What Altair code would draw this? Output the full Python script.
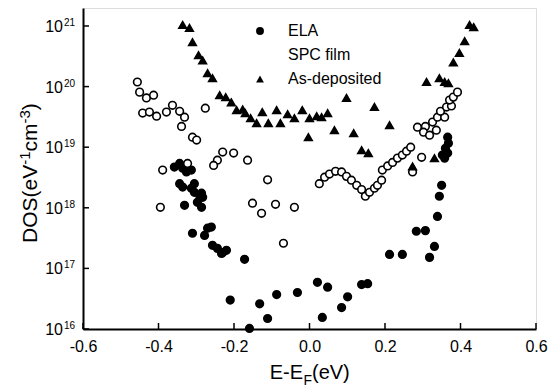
import altair as alt
import pandas as pd

# ---- data ----
series_names = ["ELA", "SPC film", "As-deposited"]

ela_x = [-0.358, -0.344, -0.336, -0.326, -0.313, -0.344, -0.336, -0.313, -0.305, -0.305,
         -0.291, -0.283, -0.297, -0.286, -0.331, -0.310, -0.278, -0.270, -0.260, -0.257,
         -0.244, -0.230, -0.220, -0.233, -0.172, -0.210, -0.159, -0.132, -0.111, -0.087,
         -0.032, 0.021, 0.048, 0.034, 0.085, 0.101, 0.138, 0.154, 0.212, 0.246,
         0.283, 0.307, 0.331, 0.318, 0.339, 0.344, 0.350, 0.366, 0.368, 0.360,
         0.366, 0.352, 0.358, -0.286]
ela_y = [4.7e18, 5.4e18, 4.5e18, 3.9e18, 4.2e18, 2.5e18, 2.2e18, 2.1e18, 2.5e18, 1.8e18,
         1.6e18, 1.49e18, 1.23e18, 1.02e18, 1.10e18, 3.8e17, 3.5e17, 4.6e17, 4.8e17, 2.4e17,
         2.14e17, 1.83e17, 1.99e17, 1.77e17, 1.41e17, 3.0e16, 1.02e16, 2.6e16, 1.49e16, 3.7e16,
         4.0e16, 5.9e16, 4.9e16, 1.55e16, 2.26e16, 3.4e16, 5.4e16, 5.6e16, 1.70e17, 1.70e17,
         4.1e17, 4.2e17, 2.3e17, 1.52e17, 7.2e17, 1.55e18, 2.35e18, 1.46e19, 1.16e19, 9.6e18,
         8.0e18, 7.4e18, 6.6e18, 1.74e18]

spc_x = [-0.456, -0.450, -0.432, -0.413, -0.442, -0.424, -0.405, -0.379, -0.363, -0.344,
         -0.331, -0.339, -0.310, -0.299, -0.389, -0.323, -0.395, -0.276, -0.230, -0.244,
         -0.254, -0.201, -0.164, -0.111, -0.151, -0.127, -0.090, -0.040, -0.069,
         0.026, 0.040, 0.053, 0.069, 0.085, 0.098, 0.111, 0.125, 0.138, 0.148,
         0.159, 0.172, 0.180, 0.191, 0.193, 0.207, 0.220, 0.233, 0.246, 0.257,
         0.268, 0.273, 0.297, 0.286, 0.307, 0.302, 0.318, 0.336, 0.326, 0.339,
         0.358, 0.347, 0.363, 0.376, 0.371, 0.381, 0.392]
spc_y = [1.19e20, 8.1e19, 6.5e19, 7.2e19, 3.65e19, 3.8e19, 3.25e19, 3.8e19, 4.9e19, 3.9e19,
         3.13e19, 2.2e19, 1.46e19, 1.31e19, 4.2e18, 5.4e18, 1.02e18, 4.4e19, 8.3e18, 6.1e18,
         5.0e18, 8.0e18, 6.1e18, 2.9e18, 1.19e18, 8.1e17, 1.14e18, 1.02e18, 2.6e17,
         2.5e18, 3.2e18, 3.6e18, 4.0e18, 3.9e18, 3.3e18, 2.85e18, 2.35e18, 2.0e18, 1.55e18,
         1.8e18, 2.1e18, 2.35e18, 2.85e18, 4.2e18, 4.9e18, 5.6e18, 6.6e18, 7.4e18, 8.6e18,
         1.0e19, 3.9e18, 6.8e18, 2.14e19, 2.2e19, 1.77e19, 1.58e19, 1.91e19, 2.6e19, 3.13e19,
         3.13e19, 3.9e19, 4.6e19, 4.8e19, 6.0e19, 6.7e19, 8.1e19]

asd_x = [-0.336, -0.318, -0.310, -0.294, -0.283, -0.270, -0.257, -0.238, -0.222, -0.207,
         -0.193, -0.177, -0.170, -0.156, -0.140, -0.125, -0.109, -0.087, -0.077, -0.058,
         -0.040, -0.019, 0.000, 0.019, 0.032, 0.048, -0.003, 0.066, 0.098, 0.117,
         0.138, 0.156, 0.172, 0.212, 0.273, 0.331, 0.310, 0.344, 0.358, 0.368,
         0.381, 0.397, 0.411, 0.424, 0.435]
asd_y = [1.04e21, 9.3e20, 5.4e20, 3.3e20, 2.7e20, 1.67e20, 1.38e20, 7.2e19, 6.7e19, 5.5e19,
         4.1e19, 4.2e19, 3.65e19, 3.0e19, 2.5e19, 3.8e19, 2.5e19, 4.1e19, 2.5e19, 3.5e19,
         3.0e19, 4.1e19, 3.0e19, 3.25e19, 3.13e19, 3.65e19, 1.46e19, 1.91e19, 6.5e19, 1.70e19,
         8.9e18, 8.0e18, 4.6e19, 2.3e19, 4.8e18, 6.6e18, 1.19e20, 1.38e20, 1.19e20, 1.14e20,
         2.5e20, 3.6e20, 5.6e20, 1.04e21, 9.6e20]

x_ticks = [-0.6, -0.4, -0.2, 0.0, 0.2, 0.4, 0.6]
y_ticks = [1e16, 1e17, 1e18, 1e19, 1e20, 1e21]
y_tick_base = ["10"] * 6
y_tick_exp = ["16", "17", "18", "19", "20", "21"]

# ---- tables ----
df = pd.concat([
    pd.DataFrame({"E": ela_x, "DOS": ela_y, "series": "ELA"}),
    pd.DataFrame({"E": spc_x, "DOS": spc_y, "series": "SPC film"}),
    pd.DataFrame({"E": asd_x, "DOS": asd_y, "series": "As-deposited"}),
], ignore_index=True)
xt = pd.DataFrame({"t": x_ticks})
yt = pd.DataFrame({"v": y_ticks, "base": y_tick_base, "exp": y_tick_exp})

W, H = 453, 321
FONT = "Liberation Sans"
xscale = alt.Scale(domain=[-0.6, 0.6], nice=False, zero=False)
yscale = alt.Scale(type="log", domain=[1e16, 1.98e21], nice=False)

legend = alt.Legend(title=None, orient="none", legendX=169, legendY=15,
                    labelFontSize=16, labelFont=FONT, labelColor="black",
                    symbolSize=62, symbolStrokeColor="black", symbolStrokeWidth=1.6,
                    labelOffset=20, rowPadding=8, padding=0)

points = alt.Chart(df).mark_point(filled=True, stroke="black", strokeWidth=1.6,
                                  opacity=1, size=58).encode(
    x=alt.X("E:Q", scale=xscale,
            axis=alt.Axis(values=x_ticks, ticks=False, grid=False, title=None,
                          domainColor="black", domainWidth=2,
                          labelFontSize=16, labelFont=FONT, labelColor="black",
                          labelPadding=9, labelFlush=False,
                          labelExpr="datum.value < 0 ? '-' + format(-datum.value, '.1f') : format(datum.value, '.1f')")),
    y=alt.Y("DOS:Q", scale=yscale,
            axis=alt.Axis(values=y_ticks, labels=False, ticks=False, grid=False,
                          title=None, domainColor="black", domainWidth=2)),
    fill=alt.Fill("series:N", scale=alt.Scale(domain=series_names,
                                              range=["black", "white", "black"]),
                  legend=legend),
    shape=alt.Shape("series:N", scale=alt.Scale(domain=series_names,
                                                range=["circle", "circle", "triangle-up"]),
                    legend=legend),
)

xtick_marks = alt.Chart(xt).mark_rule(color="black", strokeWidth=1.5).encode(
    x=alt.X("t:Q", scale=xscale), y=alt.value(H), y2=alt.value(H - 6))
ytick_marks = alt.Chart(yt).mark_rule(color="black", strokeWidth=1.5).encode(
    y=alt.Y("v:Q", scale=yscale), x=alt.value(0), x2=alt.value(6))

ylab_base = alt.Chart(yt).mark_text(align="right", baseline="middle", fontSize=16,
                                    font=FONT, color="black", dy=1).encode(
    y=alt.Y("v:Q", scale=yscale), x=alt.value(-20), text="base:N")
ylab_exp = alt.Chart(yt).mark_text(align="left", baseline="middle", fontSize=10,
                                   font=FONT, color="black", dy=-3).encode(
    y=alt.Y("v:Q", scale=yscale), x=alt.value(-19), text="exp:N")

one = pd.DataFrame({"k": [0]})

def txt(s, x, y, size, angle=0, align="left"):
    kw = dict(align=align, baseline="alphabetic", fontSize=size, font=FONT, color="black")
    if angle:
        kw["angle"] = angle
    return alt.Chart(one).mark_text(**kw).encode(
        x=alt.value(x), y=alt.value(y), text=alt.value(s))

# x title: E-E_F(eV)
xt1 = txt("E-E", 220, 371, 20, align="right")
xt2 = txt("F", 220.5, 376.5, 14)
xt3 = txt("(eV)", 229, 371, 20)

# y title: DOS(eV^-1 cm^-3), rotated
yt1 = txt("DOS(eV", -46, 235, 21, angle=270)
yt2 = txt("-1", -53, 156.8, 15, angle=270)
yt3 = txt("cm", -46, 143.5, 21, angle=270)
yt4 = txt("-3", -53, 115.5, 15, angle=270)
yt5 = txt(")", -46, 102.2, 21, angle=270)

chart = alt.layer(
    points, xtick_marks, ytick_marks, ylab_base, ylab_exp,
    xt1, xt2, xt3, yt1, yt2, yt3, yt4, yt5
).properties(
    width=W, height=H,
    autosize=alt.AutoSizeParams(type="none"),
    padding={"left": 83, "top": 8, "right": 23, "bottom": 59},
).configure_view(
    stroke="black", strokeWidth=1.5
).configure(background="white")

chart.save("out.html", embed_options={"renderer": "svg", "actions": False})
